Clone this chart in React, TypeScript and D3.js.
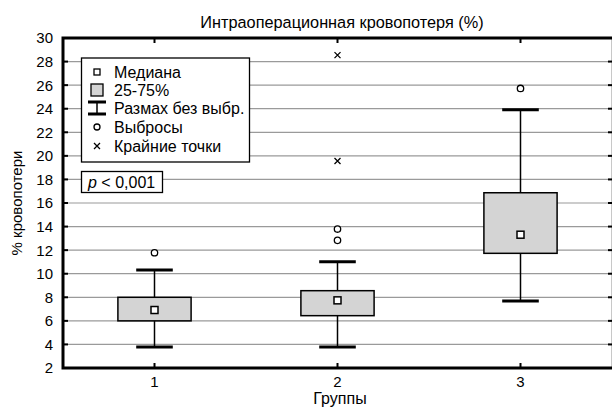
import React, { useEffect, useRef } from 'react';
import * as d3 from 'd3';

const groups = [1, 2, 3];
const q1 = [6.0, 6.44, 11.73];
const q3 = [8.0, 8.56, 16.87];
const medians = [6.92, 7.74, 13.31];
const whiskerLow = [3.78, 3.78, 7.68];
const whiskerHigh = [10.31, 11.02, 23.91];
const outliers: [number, number][] = [[1, 11.78], [2, 13.79], [2, 12.83], [3, 25.72]];
const extremes: [number, number][] = [[2, 28.55], [2, 19.56]];
const yTicks = [2, 4, 6, 8, 10, 12, 14, 16, 18, 20, 22, 24, 26, 28, 30];

const legendItems = ['Медиана', '25-75%', 'Размах без выбр.', 'Выбросы', 'Крайние точки'];

const W = 613;
const H = 409;
const margin = { top: 38, right: 1, bottom: 41, left: 63 };
const FONT = 'Arial, "Liberation Sans", Helvetica, sans-serif';

const App: React.FC = () => {
  const svgRef = useRef<SVGSVGElement>(null);

  useEffect(() => {
    const svg = d3.select(svgRef.current);
    svg.selectAll('*').remove();

    const x = d3.scaleLinear().domain([0.5, 3.5]).range([margin.left, W - margin.right]);
    const y = d3.scaleLinear().domain([2, 30]).range([H - margin.bottom, margin.top]);
    const x0 = margin.left, x1 = W - margin.right;
    const y0 = margin.top, y1 = H - margin.bottom;

    svg.style('font-family', FONT);

    // grid
    svg.append('g')
      .selectAll('line')
      .data(yTicks.slice(1, -1))
      .enter().append('line')
      .attr('x1', x0).attr('x2', x1 - 2)
      .attr('y1', d => y(d)).attr('y2', d => y(d))
      .attr('stroke', '#9a9a9a').attr('stroke-width', 1.2);

    // right border thin
    svg.append('line')
      .attr('x1', x1 - 0.5).attr('x2', x1 - 0.5)
      .attr('y1', y0).attr('y2', y1)
      .attr('stroke', '#c8c8c8').attr('stroke-width', 1);

    // boxes
    const bw = 0.4, cw = 0.2;
    groups.forEach((g, i) => {
      const cx = x(g);
      const grp = svg.append('g');
      grp.append('line')
        .attr('x1', cx).attr('x2', cx)
        .attr('y1', y(whiskerHigh[i])).attr('y2', y(whiskerLow[i]))
        .attr('stroke', '#000').attr('stroke-width', 1.5);
      [whiskerLow[i], whiskerHigh[i]].forEach(v => {
        grp.append('line')
          .attr('x1', x(g - cw / 2)).attr('x2', x(g + cw / 2))
          .attr('y1', y(v)).attr('y2', y(v))
          .attr('stroke', '#000').attr('stroke-width', 3);
      });
      grp.append('rect')
        .attr('x', x(g - bw / 2)).attr('width', x(g + bw / 2) - x(g - bw / 2))
        .attr('y', y(q3[i])).attr('height', y(q1[i]) - y(q3[i]))
        .attr('fill', '#d4d4d4').attr('stroke', '#000').attr('stroke-width', 1.5);
      grp.append('rect')
        .attr('x', cx - 3.5).attr('y', y(medians[i]) - 3.5)
        .attr('width', 7).attr('height', 7)
        .attr('fill', '#fff').attr('stroke', '#000').attr('stroke-width', 1.5);
    });

    svg.append('g').selectAll('circle')
      .data(outliers)
      .enter().append('circle')
      .attr('cx', d => x(d[0])).attr('cy', d => y(d[1]))
      .attr('r', 3.2).attr('fill', '#fff').attr('stroke', '#000').attr('stroke-width', 1.3);

    const cross = (sel: any, cx: number, cy: number) => {
      const s = 3;
      sel.append('path')
        .attr('d', `M${cx - s},${cy - s}L${cx + s},${cy + s}M${cx - s},${cy + s}L${cx + s},${cy - s}`)
        .attr('stroke', '#000').attr('stroke-width', 1.3);
    };
    const ex = svg.append('g');
    extremes.forEach(d => cross(ex, x(d[0]), y(d[1])));

    // axes frame
    svg.append('path')
      .attr('d', `M${x1},${y0}H${x0}V${y1}H${x1}`)
      .attr('fill', 'none').attr('stroke', '#000').attr('stroke-width', 3);

    // left/right ticks and labels
    const yt = svg.append('g');
    yTicks.forEach(t => {
      yt.append('line')
        .attr('x1', x0).attr('x2', x0 + 5)
        .attr('y1', y(t)).attr('y2', y(t))
        .attr('stroke', '#000').attr('stroke-width', 2);
      yt.append('line')
        .attr('x1', x1 - 4).attr('x2', x1)
        .attr('y1', y(t)).attr('y2', y(t))
        .attr('stroke', '#000').attr('stroke-width', 2);
      yt.append('text')
        .attr('x', 53).attr('y', y(t))
        .attr('dy', '0.36em')
        .attr('text-anchor', 'end')
        .attr('font-size', 15)
        .text(t);
    });

    // x ticks
    const xt = svg.append('g');
    groups.forEach(g => {
      xt.append('line')
        .attr('x1', x(g)).attr('x2', x(g))
        .attr('y1', y1).attr('y2', y1 - 5)
        .attr('stroke', '#000').attr('stroke-width', 2);
      xt.append('line')
        .attr('x1', x(g)).attr('x2', x(g))
        .attr('y1', y0).attr('y2', y0 + 5)
        .attr('stroke', '#000').attr('stroke-width', 2);
      xt.append('text')
        .attr('x', x(g)).attr('y', 387)
        .attr('text-anchor', 'middle')
        .attr('font-size', 15)
        .text(g);
    });

    // titles
    svg.append('text')
      .attr('x', 342).attr('y', 28)
      .attr('text-anchor', 'middle')
      .attr('font-size', 16.3)
      .text('Интраоперационная кровопотеря (%)');

    svg.append('text')
      .attr('x', 340).attr('y', 404)
      .attr('text-anchor', 'middle')
      .attr('font-size', 16)
      .text('Группы');

    svg.append('text')
      .attr('transform', 'translate(22,203) rotate(-90)')
      .attr('text-anchor', 'middle')
      .attr('font-size', 15)
      .text('% кровопотери');

    // legend
    const lg = svg.append('g');
    lg.append('rect')
      .attr('x', 81.5).attr('y', 58).attr('width', 168).attr('height', 104)
      .attr('fill', '#fff').attr('stroke', '#000').attr('stroke-width', 1.3);
    const rows = [72, 90, 108, 127, 146];
    legendItems.forEach((label, i) => {
      lg.append('text')
        .attr('x', 114).attr('y', rows[i])
        .attr('dy', '0.36em')
        .attr('font-size', 16)
        .text(label);
    });
    const sx = 97;
    lg.append('rect')
      .attr('x', sx - 3).attr('y', rows[0] - 3).attr('width', 6).attr('height', 6)
      .attr('fill', '#fff').attr('stroke', '#000').attr('stroke-width', 1.3);
    lg.append('rect')
      .attr('x', sx - 6).attr('y', rows[1] - 6).attr('width', 12).attr('height', 12)
      .attr('fill', '#d4d4d4').attr('stroke', '#000').attr('stroke-width', 1.3);
    lg.append('path')
      .attr('d', `M${sx - 9},${rows[2] - 6}H${sx + 9}M${sx - 9},${rows[2] + 6}H${sx + 9}`)
      .attr('stroke', '#000').attr('stroke-width', 3);
    lg.append('line')
      .attr('x1', sx).attr('x2', sx).attr('y1', rows[2] - 6).attr('y2', rows[2] + 6)
      .attr('stroke', '#000').attr('stroke-width', 1.5);
    lg.append('circle')
      .attr('cx', sx).attr('cy', rows[3]).attr('r', 3)
      .attr('fill', '#fff').attr('stroke', '#000').attr('stroke-width', 1.3);
    cross(lg, sx, rows[4]);

    // p-value box
    const pg = svg.append('g');
    pg.append('rect')
      .attr('x', 81.5).attr('y', 171.5).attr('width', 81).attr('height', 21)
      .attr('fill', '#fff').attr('stroke', '#000').attr('stroke-width', 1.3);
    const pt = pg.append('text')
      .attr('x', 88).attr('y', 182)
      .attr('dy', '0.36em')
      .attr('font-size', 16);
    pt.append('tspan').attr('font-style', 'italic').text('p');
    pt.append('tspan').text(' < 0,001');
  }, []);

  return (
    <div style={{ position: 'absolute', left: 0, top: 0, background: '#fff' }}>
      <svg ref={svgRef} width={W} height={H} style={{ display: 'block' }}></svg>
    </div>
  );
};

export default App;
